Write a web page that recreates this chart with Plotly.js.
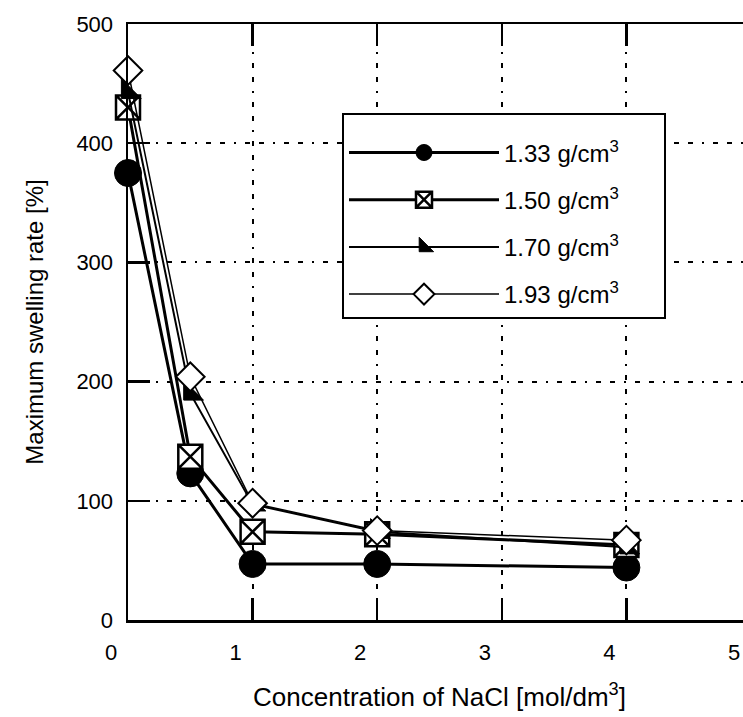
<!DOCTYPE html>
<html>
<head>
<meta charset="utf-8">
<script src="https://cdn.plot.ly/plotly-3.0.1.min.js"></script>
<style>html,body{margin:0;padding:0;background:#fff;overflow:hidden;}</style>
</head>
<body>
<div id="chart" style="width:752px;height:717px;"></div>
<script>
// NaCl concentration [mol/dm3]
const concentration = [0, 0.5, 1, 2, 4];
// Maximum swelling rate [%] per dry density
const rate133 = [375, 123, 47, 47, 44];
const rate150 = [430, 137, 74, 72, 63];
const rate170 = [443, 190, 97, 74, 61];
const rate193 = [461, 204, 98, 75, 67];
const seriesNames = ['1.33 g/cm<sup>3</sup>', '1.50 g/cm<sup>3</sup>', '1.70 g/cm<sup>3</sup>', '1.93 g/cm<sup>3</sup>'];
const xTicks = [0, 1, 2, 3, 4, 5];
const yTicks = [0, 100, 200, 300, 400, 500];

const FONT = 'Liberation Sans, Arial, Helvetica, sans-serif';
const PAD = '&nbsp;&nbsp;&nbsp;&nbsp;&nbsp;&nbsp;';

const traces = [
  {x: concentration, y: rate133, name: seriesNames[0] + PAD, legendgroup: 'a',
   mode: 'lines+markers', cliponaxis: false,
   line: {color: 'black', width: 3},
   marker: {symbol: 'circle', size: 27, color: 'black', line: {color: 'black', width: 1}}},
  {x: concentration, y: rate150, name: seriesNames[1] + PAD, legendgroup: 'b',
   mode: 'lines+markers', cliponaxis: false,
   line: {color: 'black', width: 3},
   marker: {symbol: 'square-x', size: 24, color: 'white', line: {color: 'black', width: 2.5}}},
  {x: concentration, y: rate170, name: seriesNames[2] + PAD, legendgroup: 'c',
   mode: 'lines+markers', cliponaxis: false,
   line: {color: 'black', width: 2},
   marker: {symbol: 'triangle-sw', size: 22, color: 'black', line: {color: 'black', width: 1}}},
  {x: concentration, y: rate193, name: seriesNames[3] + PAD, legendgroup: 'd',
   mode: 'lines+markers', cliponaxis: false,
   line: {color: 'black', width: 1.5},
   marker: {symbol: 'diamond', size: 22, color: 'white', line: {color: 'black', width: 2}}}
];

const gridDash = '5px,9px,5px,9px,2px,9px';

const layout = {
  width: 752, height: 717,
  margin: {l: 128, r: 1, t: 24, b: 97},
  paper_bgcolor: 'white', plot_bgcolor: 'white',
  font: {family: FONT, color: 'black'},
  showlegend: true,
  legend: {
    x: 0.3435, y: 0.851, xanchor: 'left', yanchor: 'top',
    bgcolor: 'white', bordercolor: 'black', borderwidth: 2,
    font: {family: FONT, size: 24, color: 'black'},
    title: {text: '&nbsp;', font: {family: FONT, size: 12, color: 'black'}},
    traceorder: 'grouped', tracegroupgap: 13, itemwidth: 150
  },
  xaxis: {
    range: [0, 5], tickvals: xTicks, ticktext: xTicks.map(String),
    showline: true, linecolor: 'black', linewidth: 2.5, mirror: 'ticks',
    ticks: 'inside', ticklen: 22, tickwidth: 2.5, tickcolor: 'black',
    showgrid: true, gridcolor: 'black', gridwidth: 2, griddash: gridDash,
    zeroline: false, ticklabelshift: -17, ticklabelstandoff: 11,
    tickfont: {family: FONT, size: 22, color: 'black'},
    title: {text: 'Concentration of NaCl [mol/dm<sup>3</sup>]', font: {family: FONT, size: 26, color: 'black'}, standoff: 24}
  },
  yaxis: {
    range: [0, 500], tickvals: yTicks, ticktext: yTicks.map(String),
    showline: true, linecolor: 'black', linewidth: 2.5, mirror: false,
    ticks: 'inside', ticklen: 22, tickwidth: 2.5, tickcolor: 'black',
    showgrid: true, gridcolor: 'black', gridwidth: 2, griddash: gridDash,
    zeroline: false, ticklabelstandoff: 8,
    tickfont: {family: FONT, size: 22, color: 'black'},
    title: {text: 'Maximum swelling rate [%]', font: {family: FONT, size: 24, color: 'black'}, standoff: 26}
  }
};

Plotly.newPlot('chart', traces, layout, {displayModeBar: false, staticPlot: true});
</script>
</body>
</html>
